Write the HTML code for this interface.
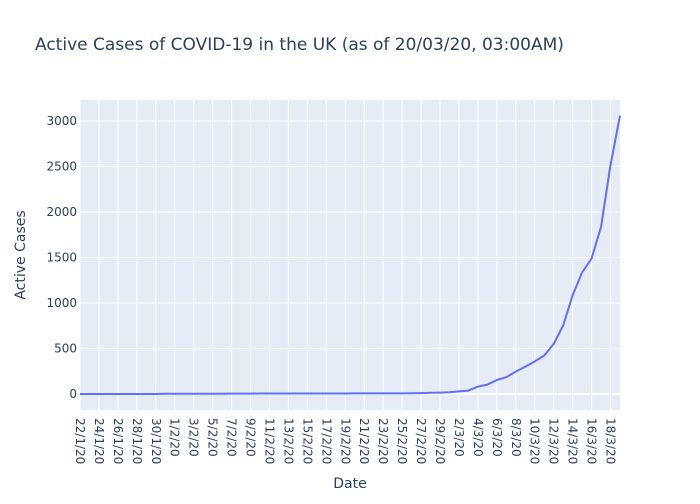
<!DOCTYPE html>
<html><head><meta charset="utf-8"><style>
body{margin:0;background:#fff;font-family:"DejaVu Sans","Liberation Sans",sans-serif;}
</style></head><body>
<svg id="chart" width="700" height="500" xmlns="http://www.w3.org/2000/svg" font-family="DejaVu Sans, Liberation Sans, sans-serif">
<rect width="700" height="500" fill="#fff"/>
<text x="35" y="50" font-size="17" fill="#2a3f5f">Active Cases of COVID-19 in the UK (as of 20/03/20, 03:00AM)</text>
<rect x="80" y="100" width="540" height="310" fill="#e5ecf6"/>
<g id="grid"></g><g id="xticks"></g><g id="yticks"></g><g id="series"></g>
<text x="350" y="488" font-size="14" fill="#2a3f5f" text-anchor="middle">Date</text>
<text transform="translate(25,255) rotate(-90)" font-size="14" fill="#2a3f5f" text-anchor="middle">Active Cases</text>
</svg>
<script>
const startDate = [22, 1];
const values = [0,0,0,0,0,0,0,0,0,2,2,2,2,2,2,3,4,4,4,5,5,5,5,5,5,5,5,5,5,6,6,6,6,6,6,8,10,13,15,20,28,37,81,103,154,184,246,301,357,423,551,754,1085,1335,1489,1838,2518,3059];
const yTicks = [0,500,1000,1500,2000,2500,3000];
const NS="http://www.w3.org/2000/svg";
const L=80,R=620,T=100,B=410;
const yMin=-176,yMax=3231;
function xs(i){return L+(R-L)*i/(values.length-1);}
function ys(v){return B-(v-yMin)/(yMax-yMin)*(B-T);}
function el(t,a,p){const e=document.createElementNS(NS,t);for(const k in a)e.setAttribute(k,a[k]);p.appendChild(e);return e;}
const mdays=[31,29,31];
const labels=[];let d=startDate[0],m=startDate[1];
for(let i=0;i<values.length;i++){labels.push(d+"/"+m+"/20");d++;if(d>mdays[m-1]){d=1;m++;}}
const grid=document.getElementById('grid'),xt=document.getElementById('xticks'),yt=document.getElementById('yticks'),ser=document.getElementById('series');
for(let i=0;i<values.length;i+=2){
 const x=xs(i);
 const g=el('line',{x1:x,x2:x,y1:T,y2:B,stroke:'#fff','stroke-width':1},grid);
 
 
 const t=el('text',{transform:`translate(${x-4},418) rotate(90)`,'font-size':12,fill:'#2a3f5f'},xt);
 t.textContent=labels[i];
 
 
}
yTicks.forEach(v=>{
 const y=ys(v);
 const g=el('line',{x1:L,x2:R,y1:y,y2:y,stroke:'#fff','stroke-width':v===0?2:1},grid);
 
 
 const t=el('text',{x:L-3,y:y+4,'font-size':12,fill:'#2a3f5f','text-anchor':'end'},yt);
 t.textContent=v;
 
 
});
const pts=values.map((v,i)=>xs(i).toFixed(1)+","+ys(v).toFixed(1)).join(" ");
const line=el('polyline',{points:pts,fill:'none',stroke:'#636efa','stroke-width':2,'stroke-linejoin':'round'},ser);


</script>
</body></html>
